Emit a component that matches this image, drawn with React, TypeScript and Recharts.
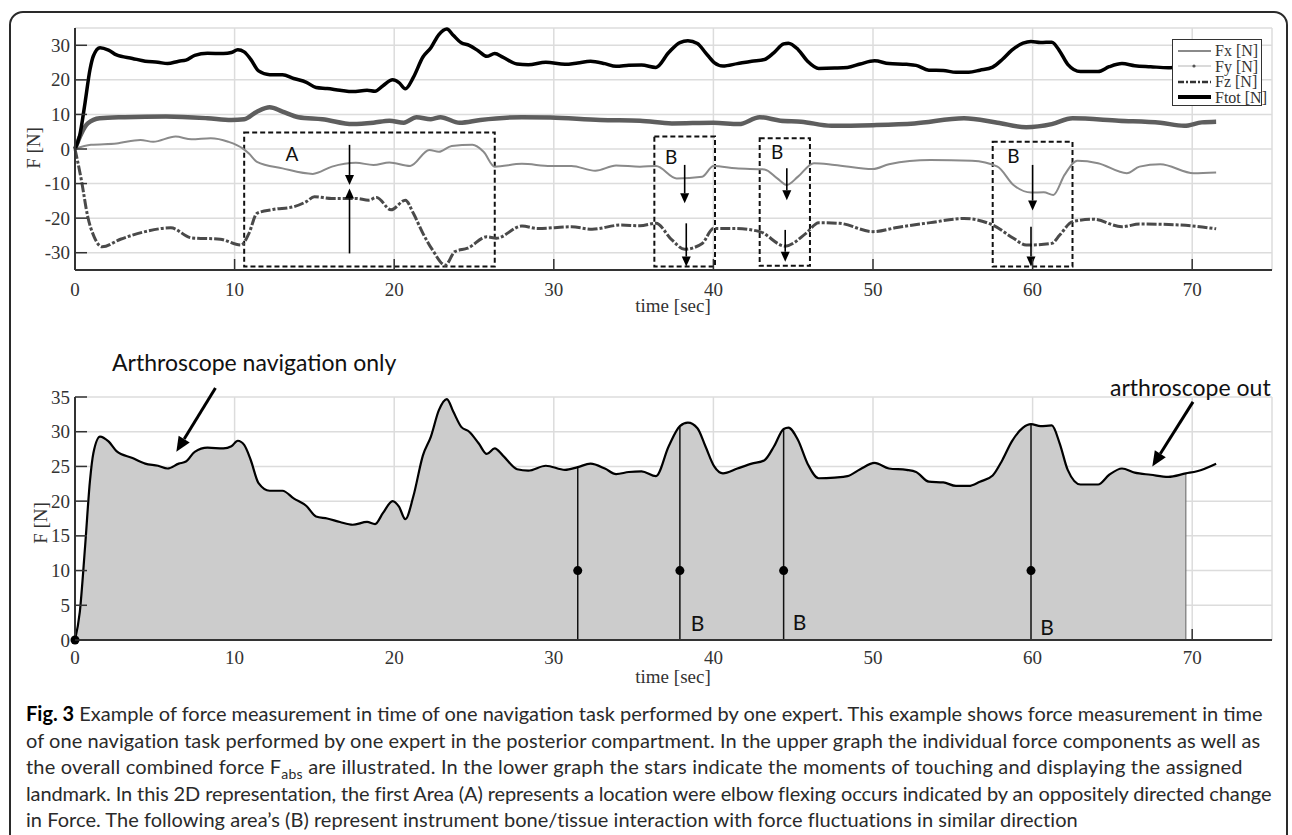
import React from "react";
import {
  ComposedChart,
  Line,
  Area,
  Scatter,
  XAxis,
  YAxis,
  CartesianGrid,
  ReferenceArea,
  ReferenceLine,
  Legend,
} from "recharts";

type Pt = [number, number];

// upper graph: force components, [time sec, force N]
const fxPoints: Pt[] = [
  [0, 0], [1, 1.2], [2.6, 1.6], [4.1, 2.6], [4.9, 2.1], [6.3, 3.6], [7.3, 2.8], [8.5, 3.1], [9.6, 2.1],
  [10.5, 0.2], [10.9, -1.3], [11.4, -3.7], [13, -5.6], [14.9, -7.2], [16.1, -5.1], [17.6, -4.0], [18.7, -4.6],
  [19.7, -3.9], [21, -4.9], [22.2, -0.3], [22.8, -0.8], [23.6, 0.9], [24.9, 1.2], [25.6, -0.8], [26.3, -5.1],
  [28, -4.3], [29.8, -4.9], [31.1, -4.9], [32.6, -6.3], [33.9, -4.8], [35.4, -5.1], [36.4, -4.9], [37.7, -8.5],
  [39.3, -8.0], [40, -4.9], [41.4, -5.6], [43.2, -5.9], [44, -8.5], [44.6, -10.4], [45.3, -8.0], [46.3, -4.1],
  [47.6, -4.6], [50, -5.8], [51, -4.4], [53.6, -3.2], [56.2, -3.4], [57.8, -5.1], [58.8, -10.4], [59.9, -12.6],
  [60.7, -12.5], [61.3, -13.3], [62, -7.5], [62.8, -3.4], [64.1, -4.1], [65.9, -7.0], [66.7, -5.1], [68, -4.4],
  [70.1, -7.0], [71.5, -6.8],
];

const fyPoints: Pt[] = [
  [0, 0], [0.4, 4.5], [0.8, 7.4], [1.55, 8.9], [3.1, 9.2], [5.7, 9.4], [8.3, 8.9], [9.8, 8.4], [10.6, 8.6],
  [11.4, 10.8], [12.2, 12.1], [13, 10.8], [14, 9.2], [15.5, 8.6], [17.4, 7.2], [18.7, 7.6], [19.7, 8.2],
  [20.6, 7.6], [21.4, 9.2], [22.3, 8.6], [22.9, 9.2], [24.1, 7.6], [25.4, 8.4], [28, 9.2], [29.8, 9.1],
  [32.9, 8.4], [35.4, 8.2], [37.4, 7.4], [40, 7.6], [41.6, 7.2], [42.9, 9.2], [44.2, 8.2], [45.5, 7.9],
  [47.4, 6.7], [50, 6.9], [52.6, 7.4], [55.7, 8.9], [57.8, 7.6], [59.6, 6.3], [61.2, 7.2], [62.5, 8.9],
  [65.4, 8.2], [68, 7.6], [69.5, 6.7], [70.6, 7.7], [71.5, 7.9],
];

const fzPoints: Pt[] = [
  [0, 0], [0.4, -9], [0.8, -19.6], [1.2, -25.4], [1.7, -28.3], [2.85, -26.1], [4.4, -23.9], [6, -22.8],
  [7.3, -25.7], [9.1, -26.1], [10.4, -27.8], [10.9, -24.4], [11.4, -18.6], [12.4, -17.5], [13.7, -16.7],
  [14.5, -15.2], [15, -13.8], [16.1, -14.3], [17.6, -14.3], [18.4, -14.8], [18.9, -14.0], [19.8, -17.6],
  [20.7, -14.8], [21.2, -18.6], [21.8, -24.4], [22.4, -29.2], [23.2, -33.6], [23.8, -29.7], [24.6, -28.7],
  [25.8, -25.4], [26.4, -25.8], [28, -22.3], [29, -23], [31.1, -22.5], [32.4, -23.2], [34.2, -22],
  [35.4, -22.2], [36.4, -21.5], [37.4, -26.3], [38.2, -29], [39.3, -27.3], [40, -23], [41.4, -23],
  [42.9, -23.9], [44.5, -28.1], [45.8, -24.4], [46.6, -21.3], [47.9, -21.5], [50, -23.9], [51.5, -22.7],
  [53.6, -21.3], [55.7, -20.1], [57.5, -22], [58.8, -25.8], [59.6, -27.8], [61.2, -27.3], [61.7, -24.9],
  [62.5, -21], [63.8, -20.3], [65.6, -22.5], [66.7, -21.7], [69.3, -22], [71.5, -23.1],
];

// combined force (Ftot above, F_abs below)
const fabsPoints: Pt[] = [
  [0, 0], [0.3, 4], [0.63, 13.4], [0.94, 23], [1.15, 26.9], [1.57, 29.3], [2.1, 28.6], [2.6, 27.2],
  [3.6, 26.2], [4.4, 25.4], [5.2, 25.1], [5.8, 24.7], [6.5, 25.4], [6.95, 25.7], [7.5, 27.1], [8.3, 27.7],
  [9.3, 27.6], [9.8, 27.9], [10.2, 28.7], [10.6, 28.1], [11.0, 26.0], [11.5, 22.6], [12.2, 21.5], [13.0, 21.5],
  [13.7, 20.4], [14.5, 19.3], [15.1, 17.8], [15.8, 17.5], [16.6, 17.0], [17.4, 16.6], [18.3, 17.0], [18.8, 16.7],
  [19.3, 18.3], [19.9, 20.0], [20.3, 19.2], [20.7, 17.4], [21.2, 20.7], [21.8, 26.6], [22.3, 29.3], [22.8, 33.1],
  [23.3, 34.7], [23.7, 32.9], [24.2, 30.7], [24.7, 30.0], [25.3, 28.3], [25.8, 26.8], [26.3, 27.6], [26.8, 26.6],
  [27.7, 24.6], [28.4, 24.4], [29.5, 25.1], [30.7, 24.5], [31.5, 24.9], [32.3, 25.4], [33.2, 24.7], [33.9, 23.9],
  [34.7, 24.2], [35.5, 24.3], [36.4, 23.6], [37.2, 27.9], [37.9, 30.8], [38.4, 31.3], [39.0, 30.5], [39.5, 27.9],
  [40.05, 25.0], [40.6, 24.0], [41.5, 24.7], [42.4, 25.4], [43.2, 25.9], [43.8, 27.9], [44.4, 30.4], [44.7, 30.6],
  [45.3, 28.8], [45.9, 25.4], [46.6, 23.3], [47.6, 23.4], [48.4, 23.6], [49.2, 24.6], [50.1, 25.5], [51.0, 24.7],
  [52.1, 24.5], [52.7, 24.2], [53.5, 22.8], [54.4, 22.7], [55.2, 22.2], [56.0, 22.2], [56.7, 22.8], [57.5, 23.7],
  [58.1, 25.9], [58.7, 28.6], [59.4, 30.6], [59.9, 31.1], [60.5, 30.8], [61.2, 30.9], [61.7, 28.3], [62.2, 24.5],
  [63.0, 22.4], [64.1, 22.4], [64.8, 23.8], [65.6, 24.7], [66.4, 24.1], [67.4, 23.8], [68.5, 23.5], [69.6, 24.0],
  [70.3, 24.3], [71.5, 25.4],
];

const timeTicks = [0, 10, 20, 30, 40, 50, 60, 70];
const topTicks = [-30, -20, -10, 0, 10, 20, 30];
const bottomTicks = [0, 5, 10, 15, 20, 25, 30, 35];
const legendOrder = ["Fx [N]", "Fy [N]", "Fz [N]", "Ftot [N]"];

// dashed regions in the upper graph: [t1, t2, fTop, fBottom]
const regionBoxes: [number, number, number, number][] = [
  [10.6, 26.3, 4.8, -34],
  [36.3, 40.1, 3.6, -34],
  [42.9, 46.05, 3.1, -33.8],
  [57.5, 62.5, 2.1, -34],
];
const regionLabels = [
  { t: 13.6, v: -1.4, label: "A" },
  { t: 37.35, v: -2.2, label: "B" },
  { t: 44.0, v: -0.8, label: "B" },
  { t: 58.8, v: -1.9, label: "B" },
];
// arrows: [tFrom, fFrom, tTo, fTo]
const topArrows: [number, number, number, number][] = [
  [17.2, 1.2, 17.2, -10.4],
  [17.2, -30.2, 17.2, -11.4],
  [38.2, -4.6, 38.2, -15.7],
  [38.3, -21.5, 38.3, -34],
  [44.6, -5.6, 44.6, -14.8],
  [44.5, -23.4, 44.5, -32.6],
  [60.0, -4.6, 60.0, -17.8],
  [59.9, -22.5, 59.9, -34],
];

// lower graph: touch moments (stars) and the curve height there
const touchTimes = [31.5, 37.9, 44.4, 59.9];
const touchTops = [24.9, 30.8, 30.4, 31.1];
const touchLevel = 10;
const fillEnd = 69.6;
const fillEndTop = 24.0;
const bottomLabels = [
  { t: 39.0, v: 2.45, label: "B" },
  { t: 45.4, v: 2.6, label: "B" },
  { t: 60.9, v: 1.9, label: "B" },
];
const bottomArrows: [number, number, number, number][] = [
  [8.8, 36.3, 6.35, 27.1],
  [70.05, 34.3, 67.5, 25.0],
];

const toRows = (pts: Pt[]) => pts.map(([t, v]) => ({ t, v }));
const fxRows = toRows(fxPoints);
const fyRows = toRows(fyPoints);
const fzRows = toRows(fzPoints);
const ftotRows = toRows(fabsPoints);
const fabsRows = fabsPoints.map(([t, v]) => ({ t, v, fill: t <= fillEnd ? v : null }));
const starRows = [{ t: 0, v: 0 }, ...touchTimes.map((t) => ({ t, v: touchLevel }))];

const serif = '"Liberation Serif", "DejaVu Serif", serif';
const sans = 'Lato, "Open Sans", sans-serif';

const makeYTick = (axisX: number) => (props: any) => {
  const { y, payload } = props;
  return (
    <g>
      <line x1={axisX} x2={axisX + 12} y1={y} y2={y} stroke="#333" strokeWidth={1.5} />
      <text x={axisX - 5} y={y} textAnchor="end" dominantBaseline="central" fontFamily={serif} fontSize={19} fill="#333">
        {payload.value}
      </text>
    </g>
  );
};

const makeXTick = (axisY: number, gap: number, markFrom: number) => (props: any) => {
  const { x, payload } = props;
  return (
    <g>
      {payload.value > 0 && payload.value >= markFrom && (
        <line x1={x} x2={x} y1={axisY} y2={axisY - 11} stroke="#333" strokeWidth={1.5} />
      )}
      <text x={x} y={axisY + gap} textAnchor="middle" dominantBaseline="central" fontFamily={serif} fontSize={19} fill="#333">
        {payload.value}
      </text>
    </g>
  );
};

const title = (x: number, y: number, text: string, rotate = false) => () => (
  <text
    x={x}
    y={y}
    transform={rotate ? `rotate(-90 ${x} ${y})` : undefined}
    textAnchor="middle"
    dominantBaseline="central"
    fontFamily={serif}
    fontSize={19}
    fill="#333"
  >
    {text}
  </text>
);

const arrowShape = (width: number, len: number, half: number) => (p: any) => {
  const { x1, y1, x2, y2 } = p;
  const a = Math.atan2(y2 - y1, x2 - x1);
  const bx = x2 - len * Math.cos(a);
  const by = y2 - len * Math.sin(a);
  const pts = `${x2},${y2} ${bx - half * Math.sin(a)},${by + half * Math.cos(a)} ${bx + half * Math.sin(a)},${by - half * Math.cos(a)}`;
  return (
    <g>
      <line x1={x1} y1={y1} x2={bx} y2={by} stroke="#000" strokeWidth={width} />
      <polygon points={pts} fill="#000" />
    </g>
  );
};

const textShape = (size: number) => (p: any) => (
  <text x={p.cx} y={p.cy} textAnchor="middle" dominantBaseline="central" fontFamily={sans} fontSize={size} fill="#111">
    {p.payload.label}
  </text>
);

const starShape = (p: any) => <circle cx={p.cx} cy={p.cy} r={4.5} fill="#000" />;

const legendStyles: Record<string, { stroke: string; width: number; dash?: string; dot?: boolean }> = {
  "Fx [N]": { stroke: "#8a8a8a", width: 2 },
  "Fy [N]": { stroke: "#b5b5b5", width: 1, dot: true },
  "Fz [N]": { stroke: "#333", width: 2.5, dash: "6 2 2 2" },
  "Ftot [N]": { stroke: "#000", width: 4 },
};

const renderLegend = (props: any) => {
  const items = (props.payload || [])
    .filter((e: any) => legendStyles[e.value])
    .sort((a: any, b: any) => legendOrder.indexOf(a.value) - legendOrder.indexOf(b.value));
  return (
    <div
      style={{
        border: "1.5px solid #333",
        background: "#fff",
        width: 90,
        height: 67,
        padding: "3px 0 0 5px",
        boxSizing: "border-box",
      }}
    >
      {items.map((e: any) => {
        const s = legendStyles[e.value];
        return (
          <div key={e.value} style={{ display: "flex", alignItems: "center", height: 15.5, whiteSpace: "nowrap" }}>
            <svg width={33} height={10} style={{ flex: "none" }}>
              <line x1={0} x2={33} y1={5} y2={5} stroke={s.stroke} strokeWidth={s.width} strokeDasharray={s.dash} />
              {s.dot && <circle cx={16} cy={5} r={1.6} fill="#555" />}
            </svg>
            <span style={{ fontFamily: serif, fontSize: 16, marginLeft: 4, color: "#333", lineHeight: "15.5px" }}>
              {e.value}
            </span>
          </div>
        );
      })}
    </div>
  );
};

const gridStroke = "#dcdcdc";
const axisStyle = { stroke: "#333", strokeWidth: 2 };

const TopChart = () => (
  <ComposedChart width={1292} height={325} margin={{ top: 28, right: 20, bottom: 0, left: 25 }}>
    <CartesianGrid stroke={gridStroke} strokeWidth={1.5} />
    <XAxis
      type="number"
      dataKey="t"
      domain={[0, 75]}
      ticks={timeTicks}
      interval={0}
      height={55}
      tickLine={false}
      axisLine={axisStyle}
      tick={makeXTick(270, 19, 0)}
      label={title(673, 305, "time [sec]")}
    />
    <YAxis
      type="number"
      domain={[-35, 35]}
      ticks={topTicks}
      interval={0}
      width={50}
      tickLine={false}
      axisLine={axisStyle}
      tick={makeYTick(75)}
      label={title(33, 148, "F [N]", true)}
    />
    <Line data={fxRows} dataKey="v" name="Fx [N]" type="monotone" stroke="#8a8a8a" strokeWidth={2} dot={false} isAnimationActive={false} />
    <Line data={fyRows} dataKey="v" name="Fy [N]" type="monotone" stroke="#5e5e5e" strokeWidth={4.5} dot={false} isAnimationActive={false} />
    <Line data={fzRows} dataKey="v" name="Fz [N]" type="monotone" stroke="#4a4a4a" strokeWidth={3} strokeDasharray="10 2 3 2" dot={false} isAnimationActive={false} />
    <Line data={ftotRows} dataKey="v" name="Ftot [N]" type="monotone" stroke="#000" strokeWidth={3.5} dot={false} isAnimationActive={false} />
    {regionBoxes.map(([t1, t2, f1, f2], i) => (
      <ReferenceArea key={`box${i}`} x1={t1} x2={t2} y1={f2} y2={f1} fill="none" stroke="#111" strokeWidth={2} strokeDasharray="5 3" ifOverflow="visible" />
    ))}
    {topArrows.map(([ta, fa, tb, fb], i) => (
      <ReferenceLine key={`arr${i}`} segment={[{ x: ta, y: fa }, { x: tb, y: fb }]} ifOverflow="visible" shape={arrowShape(1.6, 10, 4.5)} />
    ))}
    <Scatter data={regionLabels} dataKey="v" legendType="none" shape={textShape(19)} isAnimationActive={false} />
    <Legend
      layout="vertical"
      align="center"
      verticalAlign="middle"
      content={renderLegend}
      wrapperStyle={{ left: 1172, top: 39, width: "auto", height: "auto" }}
    />
  </ComposedChart>
);

const BottomChart = () => (
  <ComposedChart width={1292} height={315} margin={{ top: 17, right: 20, bottom: 0, left: 25 }}>
    <CartesianGrid stroke={gridStroke} strokeWidth={1.5} />
    <XAxis
      type="number"
      dataKey="t"
      domain={[0, 75]}
      ticks={timeTicks}
      interval={0}
      height={55}
      tickLine={false}
      axisLine={axisStyle}
      tick={makeXTick(260, 17, 70)}
      label={title(673, 296, "time [sec]")}
    />
    <YAxis
      type="number"
      domain={[0, 35]}
      ticks={bottomTicks}
      interval={0}
      width={50}
      tickLine={false}
      axisLine={axisStyle}
      tick={makeYTick(75)}
      label={title(40, 143, "F [N]", true)}
    />
    <Area data={fabsRows} dataKey="fill" type="monotone" stroke="none" fill="#cccccc" fillOpacity={1} isAnimationActive={false} />
    {touchTimes.map((t, i) => (
      <ReferenceLine key={`touch${i}`} segment={[{ x: t, y: 0 }, { x: t, y: touchTops[i] }]} stroke="#111" strokeWidth={1.5} ifOverflow="visible" />
    ))}
    <ReferenceLine segment={[{ x: fillEnd, y: 0 }, { x: fillEnd, y: fillEndTop }]} stroke="#777" strokeWidth={1.2} />
    <Line data={fabsRows} dataKey="v" type="monotone" stroke="#000" strokeWidth={2.2} dot={false} isAnimationActive={false} />
    <Scatter data={starRows} dataKey="v" shape={starShape} isAnimationActive={false} />
    <Scatter data={bottomLabels} dataKey="v" shape={textShape(21)} isAnimationActive={false} />
    {bottomArrows.map(([ta, fa, tb, fb], i) => (
      <ReferenceLine key={`barr${i}`} segment={[{ x: ta, y: fa }, { x: tb, y: fb }]} ifOverflow="visible" shape={arrowShape(3, 15, 6.5)} />
    ))}
  </ComposedChart>
);

const captionLine: React.CSSProperties = {
  position: "absolute",
  left: 26,
  height: 26.5,
  lineHeight: "26.5px",
  whiteSpace: "nowrap",
  fontFamily: sans,
  fontSize: 20,
  color: "#2a2a2a",
};

const note: React.CSSProperties = {
  position: "absolute",
  whiteSpace: "nowrap",
  fontFamily: sans,
  fontSize: 23,
  color: "#111",
  lineHeight: "26px",
};

export default function App() {
  return (
    <div style={{ position: "absolute", left: 0, top: 0, width: 1292, height: 835, overflow: "hidden", background: "#fff" }}>
      <div
        style={{
          position: "absolute",
          left: 9,
          top: 11,
          width: 1279,
          height: 900,
          border: "2px solid #2a2a2a",
          borderRadius: 14,
          boxSizing: "border-box",
        }}
      />
      <div style={{ position: "absolute", left: 0, top: 0 }}>
        <TopChart />
      </div>
      <div style={{ position: "absolute", left: 0, top: 380 }}>
        <BottomChart />
      </div>
      <div style={{ ...note, left: 112, top: 349 }}>Arthroscope navigation only</div>
      <div style={{ ...note, left: 1110, top: 374 }}>arthroscope out</div>
      <div style={{ ...captionLine, top: 700 }}>
        <b style={{ color: "#000" }}>Fig. 3</b> Example of force measurement in time of one navigation task performed by one expert. This example shows force measurement in time
      </div>
      <div style={{ ...captionLine, top: 726.5, letterSpacing: 0.07 }}>
        of one navigation task performed by one expert in the posterior compartment. In the upper graph the individual force components as well as
      </div>
      <div style={{ ...captionLine, top: 753, letterSpacing: 0.2 }}>
        the overall combined force F<sub style={{ fontSize: 14, lineHeight: 0 }}>abs</sub> are illustrated. In the lower graph the stars indicate the moments of touching and displaying the assigned
      </div>
      <div style={{ ...captionLine, top: 779.5, letterSpacing: -0.1 }}>
        landmark. In this 2D representation, the first Area (A) represents a location were elbow flexing occurs indicated by an oppositely directed change
      </div>
      <div style={{ ...captionLine, top: 806, letterSpacing: 0.04 }}>
        in Force. The following area’s (B) represent instrument bone/tissue interaction with force fluctuations in similar direction
      </div>
    </div>
  );
}
